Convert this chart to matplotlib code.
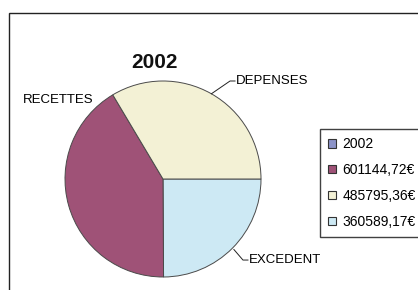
import numpy as np
import matplotlib
matplotlib.use('Agg')
import matplotlib.pyplot as plt
from matplotlib.patches import Patch, Rectangle

# data
categories = ['EXCEDENT', 'RECETTES', 'DEPENSES']
values = [360589.17, 601144.72, 485795.36]
colors = ['#cde9f4', '#9f5277', '#f3f1d5']
legend_labels = ['2002', '601144,72€', '485795,36€', '360589,17€']
legend_colors = ['#8c93c8', '#9f5277', '#f3f1d5', '#cde9f4']

plt.rcParams['font.family'] = ['Liberation Sans', 'DejaVu Sans']

W, H = 418, 290
fig = plt.figure(figsize=(W / 100, H / 100), dpi=100)

# outer chart frame (cut off right and bottom like the original)
fig.patches.append(Rectangle((9 / W, -0.2), 1.2, 1 - 13 / H + 0.2,
                             transform=fig.transFigure, fill=False,
                             ec='#222222', lw=1))

# pie axes, centre (163,179) px, radius 98 px
cx, cy, r = 163, 179, 98
ax = fig.add_axes([(cx - r) / W, (H - cy - r) / H, 2 * r / W, 2 * r / H])
wedges, _ = ax.pie(values, colors=colors, startangle=0, counterclock=False,
                   radius=1, wedgeprops=dict(edgecolor='#4a4a4a', linewidth=0.7))
ax.set_xlim(-1, 1)
ax.set_ylim(-1, 1)
ax.set_aspect('equal')
ax.axis('off')

fig.text(155 / W, 1 - 62 / H, '2002', ha='center', va='center',
         fontsize=15, fontweight='bold', color='#111111')

def mid(w, rad=1.0):
    a = np.deg2rad((w.theta1 + w.theta2) / 2)
    return rad * np.cos(a), rad * np.sin(a)

# DEPENSES label with leader
x0, y0 = mid(wedges[2])
ax.plot([x0, 0.684, 0.735], [y0, 1.0, 1.0], color='#222222', lw=0.7, clip_on=False)
ax.text(0.745, 1.0, 'DEPENSES', ha='left', va='center', fontsize=9.5)

# EXCEDENT label with leader
x0, y0 = mid(wedges[0], 1.02)
ax.plot([x0, 0.816, 0.867], [y0, -0.827, -0.827], color='#222222', lw=0.7, clip_on=False)
ax.text(0.878, -0.827, 'EXCEDENT', ha='left', va='center', fontsize=9.5)

# RECETTES label
ax.text(-0.714, 0.806, 'RECETTES', ha='right', va='center', fontsize=9.5)

handles = [Patch(facecolor=c, edgecolor='#333333', linewidth=0.8) for c in legend_colors]
leg = fig.legend(handles, legend_labels, loc='upper left',
                 bbox_to_anchor=(320 / W, 1 - 129 / H), fontsize=10,
                 frameon=True, fancybox=False, handlelength=0.55, handleheight=0.55,
                 handletextpad=0.45, labelspacing=0.85, borderpad=0.6,
                 borderaxespad=0)
leg.get_frame().set_edgecolor('#111111')
leg.get_frame().set_linewidth(1)

fig.savefig('out.png', dpi=100)
